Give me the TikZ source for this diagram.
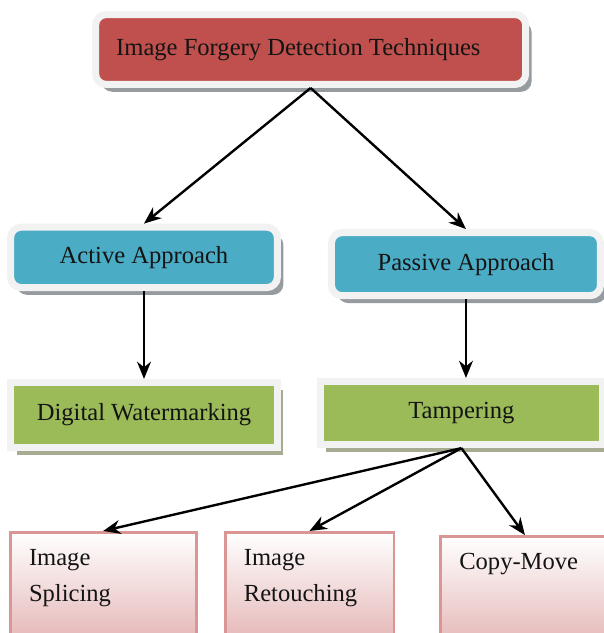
\documentclass[tikz,border=0pt]{standalone}
\usepackage{fontspec}
\setmainfont{Liberation Serif}
\usetikzlibrary{arrows.meta, positioning, shadows}
\definecolor{myred}{RGB}{192,80,77}
\definecolor{myblue}{RGB}{75,172,198}
\definecolor{mygreen}{RGB}{155,187,89}
\definecolor{myframe}{RGB}{242,242,242}
\definecolor{myshadow}{RGB}{150,155,160}
\definecolor{greenshadow}{RGB}{165,172,145}
\definecolor{pinkedge}{RGB}{217,150,148}
\definecolor{pinkfill}{RGB}{228,180,180}
\definecolor{mydark}{RGB}{20,20,20}
\tikzset{
  topblock/.style={rectangle, draw=myframe, fill=myred,
    line width=5.3pt, rounded corners=8pt, text=mydark,
    minimum width=11.38cm, minimum height=1.85cm,
    font=\fontsize{18.5}{22}\selectfont,
    drop shadow={shadow xshift=4.5pt, shadow yshift=-5.5pt, fill=myshadow, opacity=1}},
  appblock/.style={rectangle, draw=myframe, fill=myblue,
    line width=5.3pt, rounded corners=8pt, text=mydark,
    minimum height=1.6cm, font=\fontsize{18.5}{22}\selectfont,
    drop shadow={shadow xshift=4.5pt, shadow yshift=-5.5pt, fill=myshadow, opacity=1}},
  techblock/.style={rectangle, draw=myframe, fill=mygreen,
    line width=5.3pt, text=mydark,
    minimum height=1.7cm, font=\fontsize{18.5}{22}\selectfont,
    drop shadow={shadow xshift=4.5pt, shadow yshift=-5.5pt, fill=greenshadow, opacity=1}},
  leafblock/.style={rectangle, draw=pinkedge, line width=2.2pt,
    top color=white, bottom color=pinkfill, anchor=north,
    minimum width=4.6cm, minimum height=3cm},
  leaftext/.style={anchor=north west, inner sep=0pt, text=mydark,
    align=left, font=\fontsize{18.5}{27}\selectfont},
  arrow/.style={-{Stealth[length=13pt, width=10.5pt]}, line width=1.8pt, color=black}
}
\begin{document}
\begin{tikzpicture}
  \useasboundingbox (0,0) rectangle (15.98,16.75);

  \node[topblock] (root) at (8.22,15.44) {\hspace*{-0.65cm}Image Forgery Detection Techniques};

  \node[appblock, minimum width=7.06cm] (active) at (3.81,9.94) {Active Approach};
  \node[appblock, minimum width=7.12cm, minimum height=1.67cm] (passive) at (12.33,9.76) {Passive Approach};

  \node[techblock, minimum width=7.06cm, minimum height=1.72cm] (water) at (3.81,5.77) {Digital Watermarking};
  \node[techblock, minimum width=7.46cm, minimum height=1.67cm] (tamper) at (12.21,5.82) {Tampering};

  \node[leafblock, minimum width=4.92cm] (splice) at (2.73,2.70) {};
  \node[leafblock, minimum width=4.47cm] (retouch) at (8.19,2.70) {};
  \node[leafblock, minimum width=4.47cm] (copy) at (13.89,2.59) {};

  \node[leaftext] (splicetxt) at ([xshift=0.53cm, yshift=-0.48cm]splice.north west) {Image\\Splicing};
  \node[leaftext] (retouchtxt) at ([xshift=0.53cm, yshift=-0.48cm]retouch.north west) {Image\\Retouching};
  \node[leaftext] (copytxt) at ([xshift=0.53cm, yshift=-0.48cm]copy.north west) {Copy-Move};

  \draw[arrow] (root.south) -- (active.north);
  \draw[arrow] (root.south) -- (passive.north);
  \draw[arrow] (active.south) -- (water.north);
  \draw[arrow] (passive.south) -- (passive.south |- tamper.north);
  \draw[arrow] (tamper.south) -- (splice.north);
  \draw[arrow] (tamper.south) -- (retouch.north);
  \draw[arrow] (tamper.south) -- (copy.north);
\end{tikzpicture}
\end{document}
